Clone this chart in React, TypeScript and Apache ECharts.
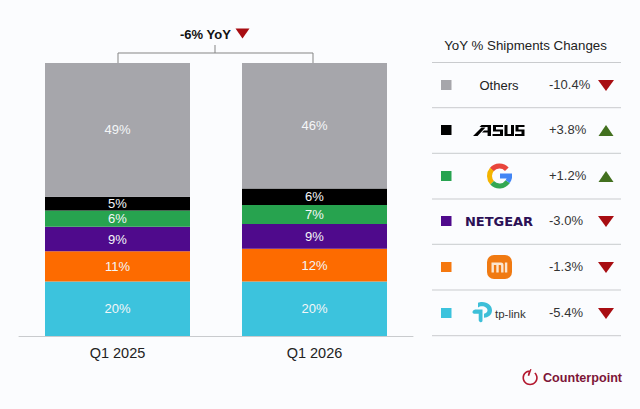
import React, { useEffect, useRef } from "react";
import * as echarts from "echarts";

const categories = ["Q1 2025", "Q1 2026"];
const tplink = [20, 20];
const xiaomi = [11, 12];
const netgear = [9, 9];
const google = [6, 7];
const asus = [5, 6];
const others = [49, 46];
const brandChanges = ["-10.4%", "+3.8%", "+1.2%", "-3.0%", "-1.3%", "-5.4%"];
const brandColors = ["#a6a6ab", "#000000", "#27a350", "#4f0a8c", "#f5780f", "#3cc3dd"];
const barColors = { others: "#a6a6ab", asus: "#000000", google: "#27a34f", netgear: "#4f0a8c", xiaomi: "#fd6b00", tplink: "#3cc3dd" };
const overall = "-6% YoY";
const legendTitle = "YoY % Shipments Changes";

const FONT = "Liberation Sans";
const tplinkIcon = "M6 0C12 0 16 4 16 9C16 14 12 17 8 17L8 12.5C10 12.5 11.5 11 11.5 9C11.5 6.5 9 4.6 6 4.6C4.5 4.6 3 5 2 5.8L2 0.8C3 0.3 4.5 0 6 0Z M6.5 8L6.5 20C6.5 21.5 5.2 22 4 21.4C3 20.9 2.7 20 2.7 19L2.7 12.5L-2 12.5C-3.6 12.5 -4 10.5 -3 9.4C-2.4 8.7 -1.5 8 0 8Z";
const tickLogo = "M9 1.5C4.2 1.5 0.5 5.2 0.5 10C0.5 14.7 4.3 18.5 9 18.5C13.7 18.5 17.5 14.7 17.5 10C17.5 7.6 16.5 5.4 14.8 3.9L13.6 5.2C14.9 6.4 15.7 8.1 15.7 10C15.7 13.7 12.7 16.7 9 16.7C5.3 16.7 2.3 13.7 2.3 10C2.3 6.9 4.4 4.2 7.3 3.5L6.3 7.5L8 8L10.6 0.3L9 0Z";
const asusLogo = "M0 11L8.5 2.6L12.5 2.6L4.5 11Z M8.5 0H18V11H14.6V7.4H9L11 5.4H14.6V2H6.5Z M20 0H30V2H23V4.5H30V11H19.5V9H27V6.5H20Z M31.5 0H34.5V9H38V0H41V11H31.5Z M42.5 0H51.5V2H45.5V4.5H51.5V11H42V9H48.5V6.5H42.5Z";
const miGlyph = "M0 0H9.5Q12 0 12 2.5V10H9.6V3.2Q9.6 2.4 8.8 2.4H7.2V10H4.8V2.4H2.4V10H0Z M13.4 0H15.8V10H13.4Z";
echarts.graphic.registerShape("tplinkIcon", echarts.graphic.extendPath(tplinkIcon as any, {}) as any);
echarts.graphic.registerShape("cpLogo", echarts.graphic.extendPath(tickLogo as any, {}) as any);
echarts.graphic.registerShape("asusLogo", echarts.graphic.extendPath(asusLogo as any, {}) as any);
echarts.graphic.registerShape("miGlyph", echarts.graphic.extendPath(miGlyph as any, {}) as any);

const rowY = [85, 130, 176, 221, 267, 313];
const lineY = [62.5, 107.7, 153.3, 199, 244.3, 290, 335.7];
const RED = "#a80d12";
const GREEN = "#42701f";

function tri(cx: number, cy: number, up: boolean, color: string, w = 16, h = 11) {
  const pts = up
    ? [[cx - w / 2, cy + h / 2], [cx + w / 2, cy + h / 2], [cx, cy - h / 2]]
    : [[cx - w / 2, cy - h / 2], [cx + w / 2, cy - h / 2], [cx, cy + h / 2]];
  return { type: "polygon", shape: { points: pts }, style: { fill: color } };
}
function txt(x: number, y: number, text: string, fontSize: number, fill: string, extra: any = {}, align = "left") {
  return { type: "text", x, y, style: { text, fontSize, fill, fontFamily: FONT, align, verticalAlign: "middle", ...extra } };
}
function arc(start: number, end: number, color: string) {
  return { type: "arc", shape: { cx: 499.5, cy: 176, r: 10, startAngle: start, endAngle: end, clockwise: true }, style: { stroke: color, lineWidth: 5, fill: "none" } };
}

function buildGraphics() {
  const g: any[] = [];
  g.push({ type: "polyline", shape: { points: [[118, 63], [118, 53], [313, 53], [313, 63]] }, style: { stroke: "#858585", lineWidth: 1, fill: "none" } });
  g.push({ type: "line", shape: { x1: 215, y1: 45, x2: 215, y2: 53 }, style: { stroke: "#858585", lineWidth: 1 } });
  g.push(txt(180, 34, overall, 13, "#111", { fontWeight: "bold" }));
  g.push(tri(242.5, 33.5, false, RED, 14, 10));
  g.push(txt(525.5, 45, legendTitle, 13.3, "#222", {}, "center"));
  lineY.forEach((y) => g.push({ type: "line", shape: { x1: 432, y1: y, x2: 621, y2: y }, style: { stroke: "#c9cbce", lineWidth: 1 } }));
  rowY.forEach((y, i) => {
    g.push({ type: "rect", shape: { x: 441, y: y - 5, width: 10.5, height: 10 }, style: { fill: brandColors[i] } });
    g.push(txt(549, y - 0.5, brandChanges[i], 13, "#333"));
    const up = brandChanges[i].startsWith("+");
    g.push(tri(606, up ? y + 0.5 : y + 0.5, up, up ? GREEN : RED, up ? 15 : 16, 11));
  });
  g.push(txt(499, 85, "Others", 13, "#222", {}, "center"));
  g.push({ type: "asusLogo", x: 473, y: 125, style: { fill: "#000" } });
  g.push(arc(-2.45, -0.75, "#e8453c"));
  g.push(arc(2.4, 3.85, "#f4b400"));
  g.push(arc(0.6, 2.4, "#34a853"));
  g.push(arc(0, 0.6, "#4285f4"));
  g.push({ type: "rect", shape: { x: 500, y: 173.5, width: 12, height: 5 }, style: { fill: "#4285f4" } });
  g.push({ type: "text", x: 499, y: 221.5, style: { text: "NETGEAR", fontSize: 13, fontWeight: "bold", fill: "#2c1055", fontFamily: "DejaVu Sans", align: "center", verticalAlign: "middle" } });
  g.push({ type: "rect", shape: { x: 487, y: 255, width: 25, height: 24, r: 7 }, style: { fill: "#f07a12" } });
  g.push({ type: "miGlyph", x: 491.5, y: 262.5, style: { fill: "#fbe6cf" } });
  g.push({ type: "tplinkIcon", x: 476, y: 302, scaleX: 1, scaleY: 0.93, style: { fill: "#3dbfd8" } });
  g.push(txt(495, 313.5, "tp-link", 11.5, "#333"));
  g.push({ type: "cpLogo", x: 522, y: 369, scaleX: 0.9, scaleY: 0.88, style: { fill: "#b3182f" } });
  g.push(txt(543, 378, "Counterpoint", 12.6, "#7d1538", { fontWeight: "bold" }));
  return g;
}

function makeSeries(name: string, data: number[], color: string) {
  return {
    name,
    type: "bar",
    stack: "share",
    data,
    barWidth: 145,
    itemStyle: { color },
    label: { show: true, position: "inside", formatter: "{c}%", color: "#f4f6f8", fontSize: 13, fontFamily: FONT },
  };
}

export default function App() {
  const ref = useRef<HTMLDivElement>(null);
  useEffect(() => {
    const chart = echarts.init(ref.current!, undefined, { renderer: "svg" });
    chart.setOption({
      animation: false,
      backgroundColor: "#fbfcfe",
      grid: { left: 19, top: 63, width: 394, height: 273 },
      xAxis: {
        type: "category",
        data: categories,
        axisTick: { show: false },
        axisLine: { lineStyle: { color: "#c9cbce", width: 1 } },
        axisLabel: { color: "#222", fontSize: 14.5, fontFamily: FONT, margin: 9 },
      },
      yAxis: { type: "value", min: 0, max: 100, show: false, splitLine: { show: false } },
      series: [
        makeSeries("TP-Link", tplink, barColors.tplink),
        makeSeries("Xiaomi", xiaomi, barColors.xiaomi),
        makeSeries("NETGEAR", netgear, barColors.netgear),
        makeSeries("Google", google, barColors.google),
        makeSeries("ASUS", asus, barColors.asus),
        makeSeries("Others", others, barColors.others),
      ],
      graphic: { elements: buildGraphics() },
    });
    return () => chart.dispose();
  }, []);
  return <div ref={ref} style={{ position: "absolute", left: 0, top: 0, width: 640, height: 409 }} />;
}
